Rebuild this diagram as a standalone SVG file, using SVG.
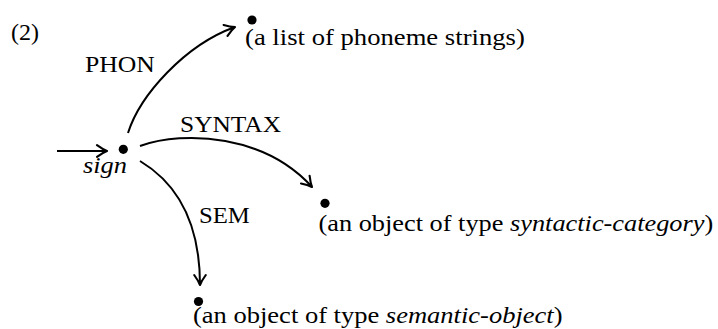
<svg xmlns="http://www.w3.org/2000/svg" width="718" height="329" viewBox="0 0 718 329">
  <style>
    .t { font-family: "Liberation Serif", serif; font-size: 24px; fill: #000; }
    .it { font-style: italic; }
    .dot { fill: #000; }
    .edge { fill: none; stroke: #000; stroke-width: 2; }
  </style>
  <defs>
    <!-- curved-barb arrowhead, tip at the path end -->
    <marker id="arrow" viewBox="-12 -7 14 14" refX="0" refY="0" markerWidth="14" markerHeight="14" markerUnits="userSpaceOnUse" orient="auto">
      <path d="M-10,-5.8 Q-4.5,-1.8 0,0 Q-4.5,1.8 -10,5.8" fill="none" stroke="#000" stroke-width="2.1" stroke-linecap="round" stroke-linejoin="round"/>
      <path d="M0,0 L-5,-2 L-4,0 L-5,2 Z" fill="#000"/>
    </marker>
  </defs>

  <!-- example number -->
  <text class="t" x="11" y="40">(2)</text>

  <!-- feature arcs -->
  <g id="edges">
    <path class="edge" d="M57,151 L107,151" marker-end="url(#arrow)"/>
    <path class="edge" d="M128,133 C140,95 185,45 235,27" marker-end="url(#arrow)"/>
    <path class="edge" d="M140,146 C185,130 265,135 312,187" marker-end="url(#arrow)"/>
    <path class="edge" d="M140,161 C180,185 200,225 200,285" marker-end="url(#arrow)"/>
    <text class="t" transform="translate(85,72) scale(1.07,1)">PHON</text>
    <text class="t" transform="translate(180,131.5) scale(1.06,1)">SYNTAX</text>
    <text class="t" transform="translate(199,223) scale(1.03,1)">SEM</text>
  </g>

  <!-- nodes -->
  <g id="node-sign">
    <circle class="dot" cx="123.3" cy="149.3" r="4.6"/>
    <text class="t it" transform="translate(83,173) scale(1.1,1)">sign</text>
  </g>
  <g id="node-phon">
    <circle class="dot" cx="252" cy="20" r="4.6"/>
    <text class="t" transform="translate(245,45) scale(1.111,1)">(a list of phoneme strings)</text>
  </g>
  <g id="node-syntax">
    <circle class="dot" cx="325" cy="203.3" r="4.6"/>
    <text class="t" transform="translate(318.5,231) scale(1.097,1)">(an object of type <tspan class="it">syntactic-category</tspan>)</text>
  </g>
  <g id="node-sem">
    <circle class="dot" cx="198.5" cy="301.5" r="4.6"/>
    <text class="t" transform="translate(193,323) scale(1.105,1)">(an object of type <tspan class="it">semantic-object</tspan>)</text>
  </g>
</svg>
